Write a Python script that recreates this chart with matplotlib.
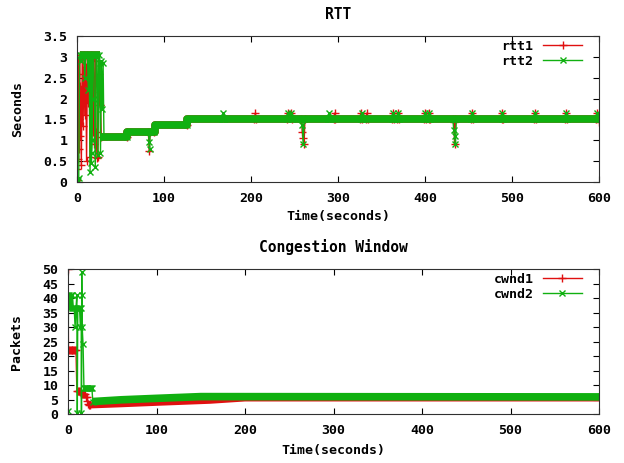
import numpy as np
import matplotlib
matplotlib.use('Agg')
import matplotlib.pyplot as plt

# RTT data (seconds)
rtt1_t = [0, 0.5, 1, 1.5, 2, 2.5, 3, 3.5, 4, 5, 6, 7, 8, 9, 10, 11, 12, 13, 14, 15,
          16, 17, 18, 19, 20, 21, 22, 23, 24, 25, 26, 27, 28,
          57, 58, 82, 83, 84, 89, 90, 127, 128,
          204, 205, 206, 241, 242, 246, 247, 258, 259, 260, 261, 262,
          295, 296, 297, 325, 326, 327, 332, 333, 334, 362, 363, 364, 368, 369, 370,
          399, 400, 401, 404, 405, 406, 432, 433, 434, 435,
          453, 454, 455, 488, 489, 490, 525, 526, 527, 561, 562, 563, 597, 598, 600]
rtt1_v = [0.05, 0.3, 2.9, 0.55, 2.6, 0.8, 3.05, 1.1, 2.3, 0.4, 2.95, 1.35, 3.05, 1.6, 2.75, 0.5, 3.05, 1.9, 2.4, 0.6,
          3.05, 2.15, 1.2, 3.0, 0.9, 2.9, 1.2, 0.58, 0.6, 2.6, 1.85, 1.85, 1.07,
          1.07, 1.21, 1.21, 0.75, 1.21, 1.21, 1.37, 1.37, 1.51,
          1.51, 1.65, 1.51, 1.51, 1.65, 1.65, 1.51, 1.51, 1.2, 1.05, 0.92, 1.51,
          1.51, 1.65, 1.51, 1.51, 1.65, 1.51, 1.51, 1.65, 1.51, 1.51, 1.65, 1.51, 1.51, 1.65, 1.51,
          1.51, 1.65, 1.51, 1.51, 1.65, 1.51, 1.51, 1.45, 0.9, 1.51,
          1.51, 1.65, 1.51, 1.51, 1.65, 1.51, 1.51, 1.65, 1.51, 1.51, 1.65, 1.51, 1.51, 1.65, 1.45]

rtt2_t = [0, 1, 2, 3, 4, 5, 6, 7, 8, 9, 10, 11, 12, 13, 14, 15, 16, 16.5, 17, 17.5, 18,
          19, 20, 21, 22, 23, 24, 25, 26, 27, 28, 29, 30, 31,
          57, 58, 82, 83, 83.5, 84, 89, 90, 127, 128,
          167, 168, 169, 241, 242, 246, 247, 258, 259, 260, 261,
          289, 290, 291, 326, 327, 328, 362, 363, 364, 368, 369, 370,
          399, 400, 401, 404, 405, 406, 432, 433, 434, 435, 436,
          453, 454, 455, 488, 489, 490, 525, 526, 527, 561, 562, 563, 597, 598, 600]
rtt2_v = [0.05, 0.05, 0.1, 3.05, 3.05, 2.9, 3.05, 3.05, 3.05, 2.5, 3.05, 3.05, 3.05, 2.2, 3.05, 0.25, 3.05, 0.45, 0.7, 1.0, 3.05,
          3.05, 2.0, 0.35, 3.05, 3.05, 0.65, 3.05, 2.85, 0.7, 2.9, 1.75, 2.85, 1.07,
          1.07, 1.21, 1.21, 0.95, 0.78, 1.21, 1.21, 1.37, 1.37, 1.51,
          1.51, 1.65, 1.51, 1.51, 1.65, 1.65, 1.51, 1.51, 1.37, 0.92, 1.51,
          1.51, 1.65, 1.51, 1.51, 1.65, 1.51, 1.51, 1.65, 1.51, 1.51, 1.65, 1.51,
          1.51, 1.65, 1.51, 1.51, 1.65, 1.51, 1.51, 1.25, 1.1, 0.92, 1.51,
          1.51, 1.65, 1.51, 1.51, 1.65, 1.51, 1.51, 1.65, 1.51, 1.51, 1.65, 1.51, 1.51, 1.65, 1.51]

# dense stretches where the markers merge into a solid band
rtt_band_t = [3, 26, np.nan, 28, 57, 57, 90, 90, 127, 127, 600]
rtt_band_v = [3.05, 3.05, np.nan, 1.07, 1.07, 1.21, 1.21, 1.37, 1.37, 1.51, 1.51]

# Congestion window data (packets)
cwnd1_t = [0, 0.5, 1, 2, 3, 4, 5, 6, 7, 8, 9, 10, 11, 12, 13, 14, 15, 16, 17, 18, 19, 20, 21, 22, 23, 24, 25]
cwnd1_v = [50, 22, 22, 22, 22, 22, 22, 22, 22, 22, 22, 8, 8, 8, 8, 7.5, 7, 7, 7, 7, 7, 5.8, 5.8, 4.5, 3.5, 3, 3]
cwnd1_band_t = [25, 60, 100, 160, 200, 600]
cwnd1_band_v = [3.0, 3.4, 3.9, 4.6, 5.4, 5.4]

cwnd2_t = [0, 0.5, 1, 2, 3, 4, 5, 6, 7, 8, 9, 10, 10.5, 11, 12, 13, 14, 15, 15.2, 15.5, 15.7, 16, 17, 18,
           19, 20, 21, 22, 23, 24, 25, 26, 27, 28]
cwnd2_v = [1, 41, 41, 36.5, 41, 36.5, 41, 36.5, 36.5, 30, 36.5, 41, 0.5, 36.5, 36.5, 36.5, 30, 36.5, 0.5, 49, 41, 30, 24, 9,
           9, 9, 9, 9, 9, 9, 9, 9, 9, 4.3]
cwnd2_band_t = [28, 60, 100, 150, 600]
cwnd2_band_v = [4.3, 4.9, 5.4, 6.0, 5.9]

red = '#e01010'
green = '#10b010'

plt.rcParams['font.family'] = ['DejaVu Sans Mono']
plt.rcParams['font.size'] = 9.5
plt.rcParams['font.weight'] = 'bold'
plt.rcParams['axes.titleweight'] = 'bold'
plt.rcParams['axes.labelweight'] = 'bold'

fig = plt.figure(figsize=(6.24, 4.63), dpi=100)
ax1 = fig.add_axes([0.1234, 0.6069, 0.8366, 0.3153])
ax2 = fig.add_axes([0.109, 0.1058, 0.851, 0.3132])

# top: RTT
ax1.plot(rtt_band_t, rtt_band_v, color=red, lw=5.5, solid_capstyle='butt')
ax1.plot(rtt1_t, rtt1_v, color=red, lw=1, marker='+', ms=6, mew=1, label='rtt1')
ax1.plot(rtt_band_t, rtt_band_v, color=green, lw=5.5, solid_capstyle='butt')
ax1.plot(rtt2_t, rtt2_v, color=green, lw=1, marker='x', ms=5, mew=1, label='rtt2')
ax1.set_xlim(0, 600)
ax1.set_ylim(0, 3.5)
ax1.set_yticks(np.arange(0, 3.51, 0.5))
ax1.set_yticklabels(['0', '0.5', '1', '1.5', '2', '2.5', '3', '3.5'])
ax1.set_title('RTT', pad=12, fontsize=10.5)
ax1.set_xlabel('Time(seconds)', labelpad=4)
ax1.set_ylabel('Seconds', labelpad=14)

# bottom: congestion window
ax2.plot(cwnd1_band_t, cwnd1_band_v, color=red, lw=4.5, solid_capstyle='butt')
ax2.plot(cwnd1_t, cwnd1_v, color=red, lw=1, marker='+', ms=6, mew=1, label='cwnd1')
ax2.plot(cwnd2_band_t, cwnd2_band_v, color=green, lw=5.5, solid_capstyle='butt')
ax2.plot(cwnd2_t, cwnd2_v, color=green, lw=1, marker='x', ms=5, mew=1, label='cwnd2')
ax2.set_xlim(0, 600)
ax2.set_ylim(0, 50)
ax2.set_yticks(np.arange(0, 51, 5))
ax2.set_title('Congestion Window', pad=12, fontsize=10.5)
ax2.set_xlabel('Time(seconds)', labelpad=5)
ax2.set_ylabel('Packets', labelpad=14)

for ax in (ax1, ax2):
    ax.set_xticks(np.arange(0, 601, 100))
    ax.tick_params(direction='in', top=True, right=True, length=4, width=0.8, pad=7)
    for s in ax.spines.values():
        s.set_color('#303030')
    ax.legend(loc='upper right', bbox_to_anchor=(0.977, 1.01), frameon=False, markerfirst=False,
              handlelength=2.9, borderaxespad=0, labelspacing=0.15, handletextpad=0.75)

fig.savefig('out.png', dpi=100)
